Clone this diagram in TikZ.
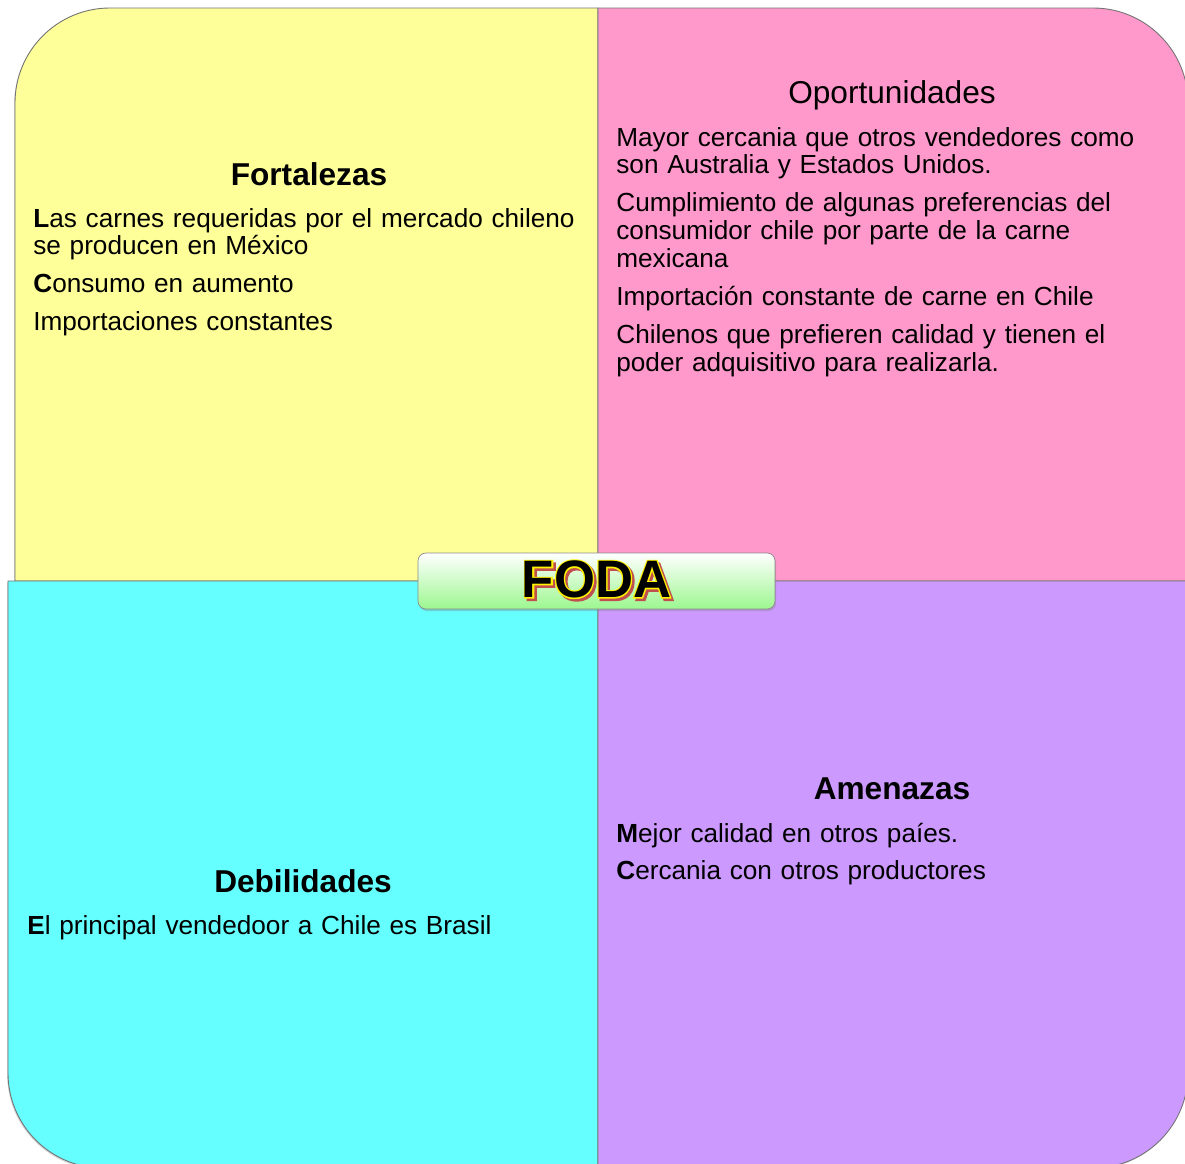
\documentclass[tikz,border=0pt]{standalone}
\usepackage{fontspec}
\setmainfont{Liberation Sans}
\newfontfamily\fodaoutline[FakeBold=5]{Liberation Sans Bold}
\usepackage{xcolor}
\definecolor{fortyellow}{HTML}{FFFF99}
\definecolor{oporpink}{HTML}{FF99CC}
\definecolor{debilcyan}{HTML}{66FFFF}
\definecolor{amenpurple}{HTML}{CC99FF}
\definecolor{fodagreen}{HTML}{9CF78F}
\definecolor{fodaring}{HTML}{FFF200}
\definecolor{fodashade}{HTML}{C0504D}
\usepackage{tikz}
\usetikzlibrary{shadows, calc, positioning}

\tikzset{
  quadrant/.style={draw=black!55, line width=0.5pt,
    drop shadow={opacity=0.3, shadow xshift=-0.5pt, shadow yshift=-0.8pt}},
  heading/.style={anchor=base, inner sep=0pt,
    font=\fontsize{18}{20}\selectfont\bfseries},
  itemlist/.style={anchor=base west, inner sep=0pt, text width=11.6cm,
    align=left, font=\fontsize{14.9}{15.9}\selectfont},
  fodabox/.style={draw=black!45, rounded corners=4.5pt,
    minimum width=7.14cm, minimum height=1.12cm,
    top color=white, bottom color=fodagreen,
    drop shadow={opacity=0.35, shadow xshift=0.6pt, shadow yshift=-1.2pt}},
  fodaword/.style={inner sep=0pt, font=\fontsize{30}{30}\selectfont\bfseries},
  fodaglow/.style={inner sep=0pt, font=\fontsize{30}{30}\selectfont\fodaoutline}
}
\newcommand{\itemgap}{\\[5.6pt]}

\begin{document}
\begin{tikzpicture}[x=0.02cm, y=-0.02cm]
  \fill[white] (0,0) rectangle (1185,1163);
  \useasboundingbox (0,0) rectangle (1185,1163);
  \clip (0,0) rectangle (1185,1163);

  % cuadrantes
  \filldraw[quadrant, fill=fortyellow] (598,581) -- (15,581) -- (15,103)
    arc (180:270:95) -- (598,8) -- cycle;
  \filldraw[quadrant, fill=oporpink] (598,581) -- (598,8) -- (1093,8)
    arc (270:360:95) -- (1188,581) -- cycle;
  \filldraw[quadrant, fill=debilcyan] (598,581) -- (8,581) -- (8,1073)
    arc (180:90:95) -- (598,1168) -- cycle;
  \filldraw[quadrant, fill=amenpurple] (598,581) -- (1188,581) -- (1188,1073)
    arc (0:90:95) -- (598,1168) -- cycle;

  % Fortalezas
  \node[heading] (fortTitle) at (309,185) {Fortalezas};
  \node[itemlist] (fortList) at (33,227) {
    \textbf{L}as carnes requeridas por el mercado chileno\\
    se producen en México\itemgap
    \textbf{C}onsumo en aumento\itemgap
    Importaciones constantes};

  % Oportunidades
  \node[heading, font=\fontsize{18}{20}\selectfont] (oporTitle) at (892,103) {Oportunidades};
  \node[itemlist] (oporList) at (616,146) {
    Mayor cercania que otros vendedores como\\
    son Australia y Estados Unidos.\itemgap
    Cumplimiento de algunas preferencias del\\
    consumidor chile por parte de la carne\\
    mexicana\itemgap
    Importación constante de carne en Chile\itemgap
    Chilenos que prefieren calidad y tienen el\\
    poder adquisitivo para realizarla.};

  % Debilidades
  \node[heading] (debilTitle) at (303,892) {Debilidades};
  \node[itemlist] (debilList) at (27,934) {
    \textbf{E}l principal vendedoor a Chile es Brasil};

  % Amenazas
  \node[heading] (amenTitle) at (892,799) {Amenazas};
  \node[itemlist] (amenList) at (616,842) {
    \textbf{M}ejor calidad en otros paíes.\itemgap
    \textbf{C}ercania con otros productores};

  % FODA
  \node[fodabox] (foda) at (596.5,581) {};
  \node[fodaglow, text=fodashade] (fodaShade)
    at ($([yshift=1pt]foda.center)+(1.4pt,-1.4pt)$) {FODA};
  \node[fodaglow, text=fodaring] (fodaRing) at ([yshift=1pt]foda.center) {FODA};
  \node[fodaword, text=black] (fodaWord) at ([yshift=1pt]foda.center) {FODA};
\end{tikzpicture}
\end{document}
